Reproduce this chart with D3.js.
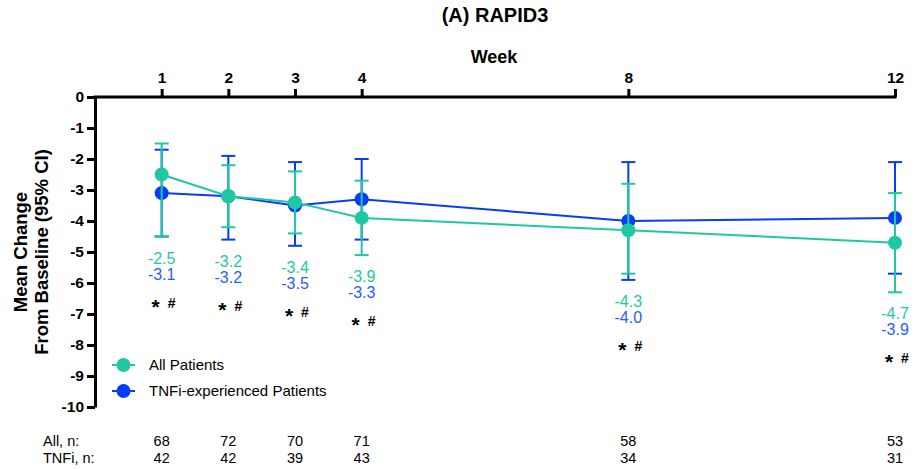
<!DOCTYPE html>
<html>
<head>
<meta charset="utf-8">
<script src="https://cdn.jsdelivr.net/npm/d3@7"></script>
<style>
  body { margin: 0; background: #fff; }
  svg { font-family: Arial, "Liberation Sans", sans-serif; }
</style>
</head>
<body>
<div id="chart"></div>
<script>
// data
const weeks = [1, 2, 3, 4, 8, 12];
const allMean = [-2.5, -3.2, -3.4, -3.9, -4.3, -4.7];
const allUpper = [-1.5, -2.2, -2.4, -2.7, -2.8, -3.1];
const allLower = [-4.5, -4.2, -4.4, -5.1, -5.7, -6.3];
const tnfiMean = [-3.1, -3.2, -3.5, -3.3, -4.0, -3.9];
const tnfiUpper = [-1.7, -1.9, -2.1, -2.0, -2.1, -2.1];
const tnfiLower = [-4.5, -4.6, -4.8, -4.6, -5.9, -5.7];
const allN = [68, 72, 70, 71, 58, 53];
const tnfiN = [42, 42, 39, 43, 34, 31];
const yTicks = [0, -1, -2, -3, -4, -5, -6, -7, -8, -9, -10];

const teal = '#1ec9a2';
const blue = '#0a3cf8';
const blueText = '#2a5cff';

const width = 916, height = 469;

const svg = d3.select('#chart')
  .append('svg')
  .attr('width', width)
  .attr('height', height);

const x = d3.scaleLinear().domain([0, 12]).range([95, 895]);
const y = d3.scaleLinear().domain([0, -10]).range([97, 407]);

// title
svg.append('text')
  .attr('x', 495).attr('y', 22)
  .attr('text-anchor', 'middle')
  .attr('font-weight', 'bold').attr('font-size', 20)
  .text('(A) RAPID3');

svg.append('text')
  .attr('x', 494).attr('y', 63)
  .attr('text-anchor', 'middle')
  .attr('font-weight', 'bold').attr('font-size', 18)
  .text('Week');

// axes
const xAxis = svg.append('g')
  .attr('transform', `translate(0,${y(0)})`)
  .call(d3.axisTop(x).tickValues(weeks).tickSize(8).tickSizeOuter(0).tickPadding(6));

const yAxis = svg.append('g')
  .attr('transform', `translate(${x(0)},0)`)
  .call(d3.axisLeft(y).tickValues(yTicks).tickSize(8).tickSizeOuter(0).tickPadding(3)
    .tickFormat(d => d === 0 ? '0' : d3.format('d')(d).replace('−', '-')));

[xAxis, yAxis].forEach(g => {
  g.select('.domain').attr('stroke', '#000').attr('stroke-width', 3);
  g.selectAll('.tick line').attr('stroke', '#000').attr('stroke-width', 3);
  g.selectAll('.tick text')
    .attr('fill', '#000')
    .attr('font-size', 15.5)
    .attr('font-weight', 'bold')
    .attr('font-family', 'Arial, "Liberation Sans", sans-serif');
});
xAxis.select('.domain').attr('d', `M${x(0) - 1.5},0H${x(12) + 1.5}`);

// y label
const yLab = svg.append('text')
  .attr('transform', `translate(0,252) rotate(-90)`)
  .attr('text-anchor', 'middle')
  .attr('font-weight', 'bold').attr('font-size', 18.5);
yLab.append('tspan').attr('x', 0).attr('y', 27).text('Mean Change');
yLab.append('tspan').attr('x', 0).attr('y', 48).text('From Baseline (95% CI)');

// series
const series = [
  { name: 'TNFi-experienced Patients', color: blue, mean: tnfiMean, upper: tnfiUpper, lower: tnfiLower },
  { name: 'All Patients', color: teal, mean: allMean, upper: allUpper, lower: allLower }
];

const line = d3.line().x((d, i) => x(weeks[i])).y(d => y(d));

series.forEach(s => {
  const g = svg.append('g');
  g.append('path')
    .attr('d', line(s.mean))
    .attr('fill', 'none')
    .attr('stroke', s.color)
    .attr('stroke-width', 2);

  weeks.forEach((w, i) => {
    g.append('line')
      .attr('x1', x(w)).attr('x2', x(w))
      .attr('y1', y(s.upper[i])).attr('y2', y(s.lower[i]))
      .attr('stroke', s.color).attr('stroke-width', 2);
    [s.upper[i], s.lower[i]].forEach(v => {
      g.append('line')
        .attr('x1', x(w) - 7).attr('x2', x(w) + 7)
        .attr('y1', y(v)).attr('y2', y(v))
        .attr('stroke', s.color).attr('stroke-width', 2);
    });
  });

  g.selectAll('circle')
    .data(s.mean)
    .enter()
    .append('circle')
    .attr('cx', (d, i) => x(weeks[i]))
    .attr('cy', d => y(d))
    .attr('r', 7)
    .attr('fill', s.color);
});

// value labels under the lowest CI bound
weeks.forEach((w, i) => {
  const base = y(Math.min(allLower[i], tnfiLower[i]));
  svg.append('text')
    .attr('x', x(w)).attr('y', base + 27)
    .attr('text-anchor', 'middle').attr('font-size', 16)
    .attr('fill', teal)
    .text(allMean[i].toFixed(1));
  svg.append('text')
    .attr('x', x(w)).attr('y', base + 43)
    .attr('text-anchor', 'middle').attr('font-size', 16)
    .attr('fill', blueText)
    .text(tnfiMean[i].toFixed(1));
  svg.append('text')
    .attr('x', x(w) - 6).attr('y', base + 77)
    .attr('text-anchor', 'middle').attr('font-size', 21).attr('font-weight', 'bold')
    .text('*');
  svg.append('text')
    .attr('x', x(w) + 10).attr('y', base + 71)
    .attr('text-anchor', 'middle').attr('font-size', 14).attr('font-weight', 'bold')
    .text('#');
});

// legend
const legend = svg.append('g');
[series[1], series[0]].forEach((s, i) => {
  const ly = 365 + i * 26;
  legend.append('line')
    .attr('x1', 112).attr('x2', 135).attr('y1', ly).attr('y2', ly)
    .attr('stroke', s.color).attr('stroke-width', 2);
  legend.append('circle')
    .attr('cx', 123.5).attr('cy', ly).attr('r', 7).attr('fill', s.color);
  legend.append('text')
    .attr('x', 149).attr('y', ly + 5)
    .attr('font-size', 15)
    .text(s.name);
});

// n table
const rows = [['All, n:', allN], ['TNFi, n:', tnfiN]];
rows.forEach(([lab, vals], r) => {
  const ty = 446 + r * 16.5;
  svg.append('text')
    .attr('x', 43).attr('y', ty).attr('font-size', 14.5)
    .text(lab);
  vals.forEach((v, i) => {
    svg.append('text')
      .attr('x', x(weeks[i])).attr('y', ty)
      .attr('text-anchor', 'middle').attr('font-size', 14.5)
      .text(v);
  });
});
</script>
</body>
</html>
